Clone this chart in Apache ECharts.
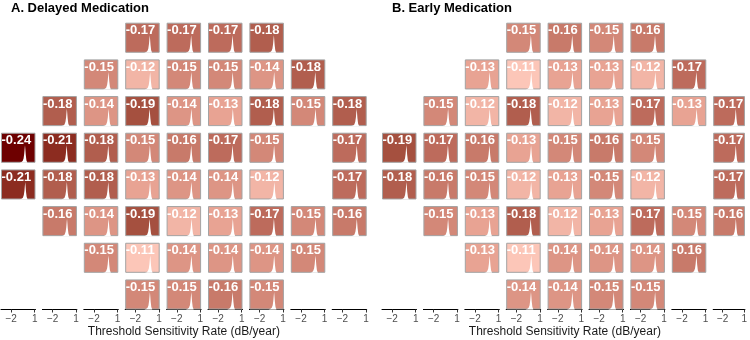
<!DOCTYPE html>
<html>
<head>
<meta charset="utf-8">
<script src="https://cdn.jsdelivr.net/npm/echarts@6/dist/echarts.min.js"></script>
<style>
 html, body { margin: 0; padding: 0; background: #fff; }
 #main { width: 750px; height: 340px; }
</style>
</head>
<body>
<div id="main"></div>
<script>
// posterior mean rates per test location, rows top->bottom, cols left->right
var delayedRows = [
  [null, null, null, -0.17, -0.17, -0.17, -0.18, null, null],
  [null, null, -0.15, -0.12, -0.15, -0.15, -0.14, -0.18, null],
  [null, -0.18, -0.14, -0.19, -0.14, -0.13, -0.18, -0.15, -0.18],
  [-0.24, -0.21, -0.18, -0.15, -0.16, -0.17, -0.15, null, -0.17],
  [-0.21, -0.18, -0.18, -0.13, -0.14, -0.14, -0.12, null, -0.17],
  [null, -0.16, -0.14, -0.19, -0.12, -0.13, -0.17, -0.15, -0.16],
  [null, null, -0.15, -0.11, -0.14, -0.14, -0.14, -0.15, null],
  [null, null, null, -0.15, -0.15, -0.16, -0.15, null, null]
];
var earlyRows = [
  [null, null, null, -0.15, -0.16, -0.15, -0.16, null, null],
  [null, null, -0.13, -0.11, -0.13, -0.13, -0.12, -0.17, null],
  [null, -0.15, -0.12, -0.18, -0.12, -0.13, -0.17, -0.13, -0.17],
  [-0.19, -0.17, -0.16, -0.13, -0.15, -0.16, -0.15, null, -0.17],
  [-0.18, -0.16, -0.15, -0.12, -0.13, -0.15, -0.12, null, -0.17],
  [null, -0.15, -0.13, -0.18, -0.12, -0.13, -0.17, -0.15, -0.16],
  [null, null, -0.13, -0.11, -0.14, -0.14, -0.14, -0.16, null],
  [null, null, null, -0.14, -0.14, -0.15, -0.15, null, null]
];
var panelTitles = ['A. Delayed Medication', 'B. Early Medication'];
var axisTitle = 'Threshold Sensitivity Rate (dB/year)';
var tickValues = [-2, 1];

// rough shape of the posterior density spikes (offset from mean, relative height)
var densityOffsets = [-0.7, -0.45, -0.3, -0.18, -0.1, -0.04, 0, 0.04, 0.1, 0.18, 0.3];
var densityHeights = [0, 0.04, 0.1, 0.25, 0.5, 0.82, 1, 0.8, 0.45, 0.15, 0];

// fill colour stops (value -> colour)
var colorVals = [-0.24, -0.21, -0.19, -0.17, -0.15, -0.13, -0.11];
var colorHex = ['#6e0000', '#8c2c20', '#a5503f', '#bd6b5c', '#d38878', '#e8a393', '#fcc6b8'];

var panelLeft = [1, 382];
var colPitch = 41.4, cellW = 34.5;
var gridTop = 22.7, gridBottomY = 309.5;
var cellH = 0.82; // in row units
var xMin = -3.3, xMax = 1.1;

function hexToRgb(h) {
  return [parseInt(h.substr(1, 2), 16), parseInt(h.substr(3, 2), 16), parseInt(h.substr(5, 2), 16)];
}
function fillFor(v) {
  if (v <= colorVals[0]) return colorHex[0];
  for (var i = 1; i < colorVals.length; i++) {
    if (v <= colorVals[i]) {
      var t = (v - colorVals[i - 1]) / (colorVals[i] - colorVals[i - 1]);
      var a = hexToRgb(colorHex[i - 1]), b = hexToRgb(colorHex[i]);
      var c = a.map(function (x, k) { return Math.round(x + (b[k] - x) * t); });
      return 'rgb(' + c.join(',') + ')';
    }
  }
  return colorHex[colorHex.length - 1];
}

function renderCell(params, api) {
  var v = api.value(0), r = api.value(1);
  var p0 = api.coord([xMin, r]);
  var p1 = api.coord([xMax, r + cellH]);
  var pts = [];
  for (var i = 0; i < densityOffsets.length; i++) {
    pts.push(api.coord([v + densityOffsets[i], r + cellH - densityHeights[i] * 0.58 * cellH]));
  }
  return {
    type: 'group',
    children: [
      { type: 'rect', shape: { x: p0[0] + 0.5, y: p0[1] + 0.5, width: p1[0] - p0[0] - 1, height: p1[1] - p0[1] - 1 },
        style: { fill: fillFor(v), stroke: '#a3a3a3', lineWidth: 1 } },
      { type: 'polygon', shape: { points: pts }, style: { fill: '#ffffff' } },
      { type: 'text', x: p0[0] + 0.5, y: p0[1] + 1.5,
        style: { text: v.toFixed(2), fill: '#ffffff', font: 'bold 13px "Liberation Sans", Arial, sans-serif',
          textAlign: 'left', textVerticalAlign: 'top' } }
    ]
  };
}

var grids = [], xAxes = [], yAxes = [], series = [];
[delayedRows, earlyRows].forEach(function (rows, p) {
  for (var c = 0; c < 9; c++) {
    var idx = grids.length;
    grids.push({ left: panelLeft[p] + c * colPitch, width: cellW, top: gridTop, height: gridBottomY - gridTop });
    xAxes.push({
      type: 'value', gridIndex: idx, min: xMin, max: xMax, position: 'bottom',
      axisLine: { show: true, onZero: false, lineStyle: { color: '#000', width: 1 } },
      axisTick: { show: true, length: 3, customValues: tickValues, lineStyle: { color: '#333' } },
      axisLabel: { show: true, customValues: tickValues, fontSize: 10, color: '#4d4d4d', margin: 5,
        fontFamily: 'Liberation Sans', formatter: function (v) { return String(v).replace('-', '\u2212'); } },
      splitLine: { show: false }
    });
    yAxes.push({ type: 'value', gridIndex: idx, min: 0, max: 7 + cellH, inverse: true, show: false });
    var data = [];
    for (var r = 0; r < rows.length; r++) {
      if (rows[r][c] !== null) data.push([rows[r][c], r]);
    }
    series.push({ type: 'custom', xAxisIndex: idx, yAxisIndex: idx, data: data, renderItem: renderCell, clip: false });
  }
});

var graphics = [];
panelTitles.forEach(function (t, p) {
  graphics.push({ type: 'text', left: panelLeft[p] + 10, top: 2,
    style: { text: t, fill: '#000', font: 'bold 13px "Liberation Sans", Arial, sans-serif' } });
  graphics.push({ type: 'text', x: panelLeft[p] + (8 * colPitch + cellW) / 2, y: 331.5,
    style: { text: axisTitle, fill: '#1a1a1a', font: '12px "Liberation Sans", Arial, sans-serif',
      textAlign: 'center', textVerticalAlign: 'middle' } });
});

var chart = echarts.init(document.getElementById('main'), null, { renderer: 'canvas' });
chart.setOption({
  animation: false,
  grid: grids,
  xAxis: xAxes,
  yAxis: yAxes,
  series: series,
  graphic: graphics
});
</script>
</body>
</html>
